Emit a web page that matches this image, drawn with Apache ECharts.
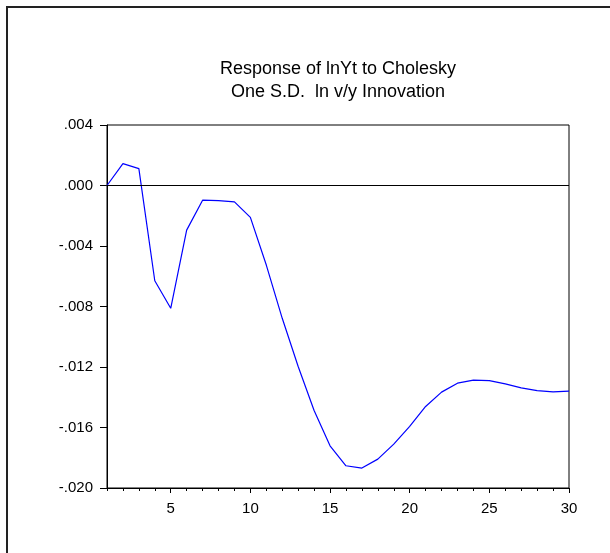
<!DOCTYPE html>
<html>
<head>
<meta charset="utf-8">
<script src="https://cdn.jsdelivr.net/npm/echarts@6/dist/echarts.min.js"></script>
<style>html,body{margin:0;padding:0;background:#fff;}#c{width:610px;height:553px;}</style>
</head>
<body>
<div id="c"></div>
<script>
const periods = [1,2,3,4,5,6,7,8,9,10,11,12,13,14,15,16,17,18,19,20,21,22,23,24,25,26,27,28,29,30];
const response = [0.0000,0.00145,0.00112,-0.00630,-0.00812,-0.00295,-0.00097,-0.00100,-0.00108,-0.00211,
  -0.00526,-0.00878,-0.01197,-0.01488,-0.01721,-0.01853,-0.01868,-0.01809,-0.01710,-0.01593,
  -0.01461,-0.01366,-0.01307,-0.01287,-0.01290,-0.01312,-0.01338,-0.01356,-0.01364,-0.01360];
const yTicks = { min: -0.020, max: 0.004, interval: 0.004 };
const titleLines = ['Response of lnYt to Cholesky', 'One S.D.  ln v/y Innovation'];

const chart = echarts.init(document.getElementById('c'), null, {renderer: 'canvas'});
const font = 'Liberation Sans, Arial, sans-serif';
const grid = {left: 107, top: 125, right: 41, bottom: 65};
chart.setOption({
  animation: false,
  backgroundColor: '#fff',
  graphic: [{
    type: 'rect', silent: true, z: -1,
    shape: {x: 7, y: 7, width: 900, height: 900},
    style: {fill: null, stroke: '#222', lineWidth: 2}
  }],
  title: {
    text: titleLines.join('\n'),
    left: 333, top: 53, textAlign: 'center',
    textStyle: {fontFamily: font, fontSize: 18, fontWeight: 'normal', color: '#000', lineHeight: 23}
  },
  grid: Object.assign({show: true, borderColor: '#000', borderWidth: 1, backgroundColor: 'transparent'}, grid),
  xAxis: [{
    type: 'value', min: 1, max: 30, interval: 1,
    axisLine: {show: true, onZero: false, lineStyle: {color: '#000', width: 1}},
    axisTick: {show: true, inside: false, length: 3, lineStyle: {color: '#000'}},
    axisLabel: {
      margin: 13, color: '#000', fontFamily: font, fontSize: 15,
      formatter: v => (Math.round(v) % 5 === 0 ? String(Math.round(v)) : '')
    },
    splitLine: {show: false}
  }, {
    type: 'category', data: periods.map(String), boundaryGap: false, position: 'bottom',
    axisLine: {show: false, onZero: false},
    axisTick: {show: true, length: 5, interval: (i, v) => Number(v) % 5 === 0, lineStyle: {color: '#000'}},
    axisLabel: {show: false},
    splitLine: {show: false}
  }],
  yAxis: {
    type: 'value', min: yTicks.min, max: yTicks.max, interval: yTicks.interval,
    axisLine: {show: true, onZero: false, lineStyle: {color: '#000', width: 1}},
    axisTick: {show: true, inside: false, length: 7, lineStyle: {color: '#000'}},
    axisLabel: {
      margin: 14, color: '#000', fontFamily: font, fontSize: 15,
      formatter: v => {
        const r = Math.round(v * 1000) / 1000;
        const s = Math.abs(r).toFixed(3).replace(/^0/, '');
        return (r < 0 ? '-' : '') + s;
      }
    },
    splitLine: {show: false}
  },
  series: [{
    type: 'line', xAxisIndex: 0,
    data: periods.map((p, i) => [p, response[i]]),
    showSymbol: false, symbol: 'none',
    lineStyle: {color: '#0000ff', width: 1.2},
    markLine: {
      silent: true, symbol: 'none', label: {show: false},
      lineStyle: {color: '#000', width: 1, type: 'solid'},
      data: [{yAxis: 0}]
    }
  }]
});
</script>
</body>
</html>
